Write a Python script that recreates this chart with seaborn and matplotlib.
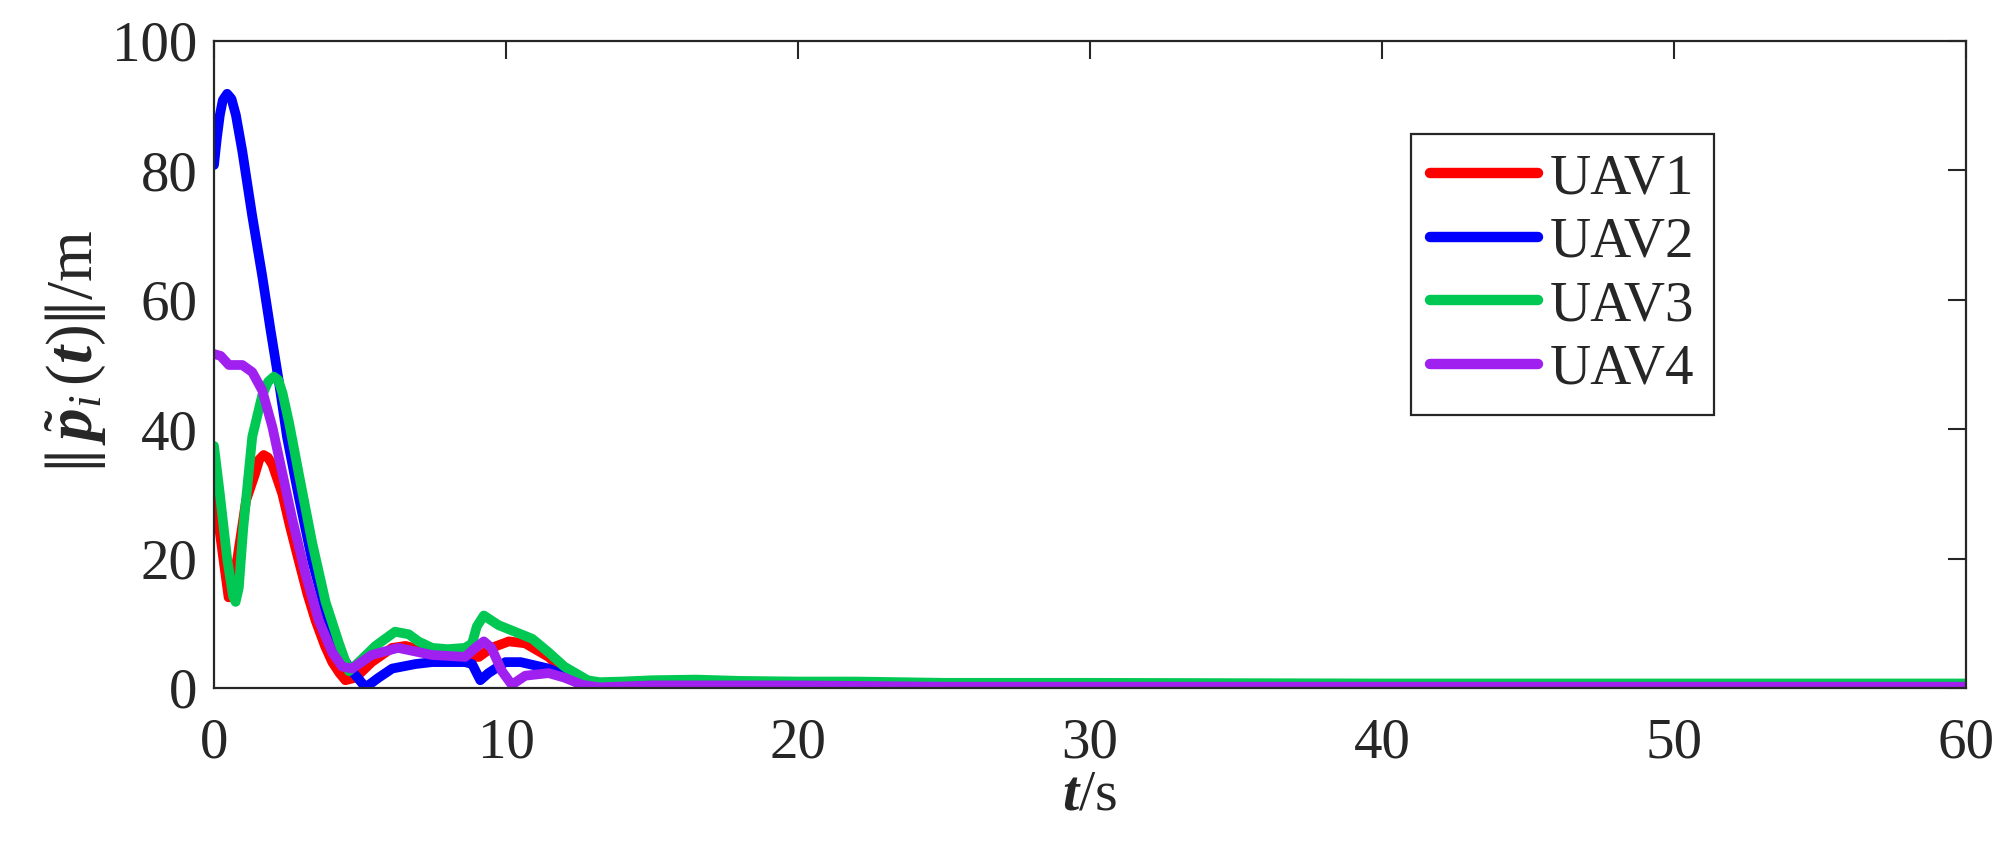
import numpy as np
import pandas as pd
import matplotlib
matplotlib.use("Agg")
import matplotlib.pyplot as plt
import seaborn as sns

# ---- data ----
t_uav1 = [0, 0.2, 0.5, 0.8, 1.1, 1.4, 1.55, 1.7, 1.85, 2.0, 2.34, 2.6, 2.9, 3.2, 3.48, 3.8, 4.05,
          4.3, 4.5, 4.85, 5.4, 6.1, 6.56, 7.0, 7.47, 8.0, 8.6, 9.07, 9.5, 10.1, 10.66, 11.0,
          11.46, 12.0, 12.4, 12.8, 13.2, 14, 15, 16.5, 18, 20, 25, 30, 40, 50, 60]
v_uav1 = [34, 24, 14, 20, 29, 33, 35.3, 36, 35.6, 34.5, 30, 25, 19.7, 14.5, 10.4, 6.5, 4.0,
          2.3, 1.2, 1.6, 4.0, 6.2, 6.5, 6.0, 5.5, 5.1, 4.8, 4.8, 6.2, 7.2, 6.9, 6.0,
          4.8, 2.6, 1.7, 0.9, 0.5, 0.8, 1.0, 1.1, 0.9, 0.7, 0.5, 0.5, 0.5, 0.5, 0.5]

t_uav2 = [0, 0.1, 0.2, 0.3, 0.45, 0.6, 0.75, 0.97, 1.31, 1.65, 1.94, 2.22, 2.5, 2.9, 3.36,
          3.82, 4.28, 4.73, 5.19, 5.64, 6.1, 6.9, 7.47, 8.6, 8.84, 9.12, 9.4, 9.98, 10.5,
          11.46, 12.0, 12.6, 13.2, 14, 15, 17, 20, 30, 40, 50, 60]
v_uav2 = [80.8, 85, 88.5, 90.8, 91.8, 91, 88.5, 82.9, 72.9, 63.7, 55.2, 47.4, 38.8, 29.6, 19.7,
          11.9, 5.5, 2.6, 0.1, 1.6, 3.0, 3.7, 4.0, 4.0, 3.7, 1.2, 2.3, 4.0, 4.0,
          3.0, 1.9, 0.5, 0.1, 0.3, 0.5, 0.6, 0.5, 0.4, 0.4, 0.4, 0.4]

t_uav3 = [0, 0.2, 0.45, 0.65, 0.74, 0.85, 1.0, 1.31, 1.65, 1.85, 2.05, 2.2, 2.35, 2.57, 2.9,
          3.36, 3.82, 4.28, 4.62, 4.96, 5.53, 6.2, 6.67, 7.0, 7.47, 8.0, 8.6, 8.84, 9.0, 9.24,
          9.75, 10.3, 10.9, 11.46, 12.0, 12.8, 13.2, 14, 15, 16.5, 18, 20, 22, 25, 30, 40,
          50, 60]
v_uav3 = [37.4, 30, 20, 14.2, 13.3, 15.5, 24.6, 38.8, 45.2, 47.3, 48.1, 47.6, 45.5, 41, 33.2,
          22.5, 13.3, 6.9, 2.6, 4.0, 6.5, 8.7, 8.3, 7.2, 6.2, 6.0, 6.2, 6.9, 9.5, 11.2,
          9.7, 8.7, 7.6, 5.5, 3.3, 1.2, 0.9, 1.0, 1.2, 1.3, 1.1, 1.0, 1.0, 0.8, 0.8, 0.7,
          0.7, 0.7]

t_uav4 = [0, 0.23, 0.51, 0.97, 1.31, 1.65, 2.0, 2.34, 2.68, 3.14, 3.59, 4.05, 4.39, 4.73, 5.4,
          6.3, 7.47, 8.6, 8.95, 9.24, 9.5, 9.86, 10.2, 10.66, 11.46, 12.0, 12.6, 13.2, 15, 20,
          25, 30, 40, 50, 60]
v_uav4 = [51.6, 51.3, 49.9, 49.9, 48.8, 46, 40.3, 33.2, 26.1, 17.5, 10.4, 5.5, 3.3, 3.0, 5.1,
          6.2, 5.1, 4.8, 6.2, 7.2, 6.2, 2.6, 0.5, 1.9, 2.3, 1.6, 0.5, 0.1, 0.4, 0.4,
          0.2, 0.2, 0.2, 0.2, 0.2]

labels = ["UAV1", "UAV2", "UAV3", "UAV4"]
colors = ["#FF0000", "#0000FF", "#00C853", "#A020F0"]
x_ticks = [0, 10, 20, 30, 40, 50, 60]
y_ticks = [0, 20, 40, 60, 80, 100]

frames = []
for lab, tt, vv in zip(labels, [t_uav1, t_uav2, t_uav3, t_uav4], [v_uav1, v_uav2, v_uav3, v_uav4]):
    frames.append(pd.DataFrame({"t": tt, "v": vv, "UAV": lab}))
df = pd.concat(frames, ignore_index=True)

# ---- style ----
sns.set_style("white")
plt.rcParams["font.family"] = ["Liberation Serif", "DejaVu Serif"]
plt.rcParams["mathtext.fontset"] = "custom"
plt.rcParams["mathtext.rm"] = "Liberation Serif"
plt.rcParams["mathtext.it"] = "Liberation Serif:italic"
plt.rcParams["mathtext.bf"] = "Liberation Serif:bold"
plt.rcParams["mathtext.bfit"] = "Liberation Serif:italic:bold"

fig = plt.figure(figsize=(20.12, 8.66), dpi=100)
ax = fig.add_axes([214 / 2012, 1 - 688 / 866, (1966 - 214) / 2012, (688 - 40.7) / 866])

sns.lineplot(data=df, x="t", y="v", hue="UAV", palette=dict(zip(labels, colors)),
             estimator=None, sort=False, linewidth=7, ax=ax)
for ln in ax.get_lines():
    ln.set_solid_joinstyle("round")

ax.set_xlim(0, 60)
ax.set_ylim(0, 100)
ax.set_xticks(x_ticks)
ax.set_yticks(y_ticks)
ax.tick_params(direction="in", length=13, width=1.5, color="#262626",
               labelsize=41, pad=12, top=True, right=True, labelcolor="#262626")
ax.tick_params(axis="x", pad=21)
for s in ax.spines.values():
    s.set_linewidth(1.6)
    s.set_color("#262626")

ax.set_xlabel(r"$\mathbfit{t}/\mathrm{s}$", fontsize=42, labelpad=0)
ax.set_ylabel(r"$\left\Vert\,\tilde{\mathbfit{p}}_{i}\,(\mathbfit{t})\right\Vert/\mathrm{m}$",
              fontsize=47)
ax.yaxis.set_label_coords(-0.06, 0.52)

leg = ax.legend(loc="upper right", bbox_to_anchor=(0.856, 0.856), borderaxespad=0,
                fontsize=41, frameon=True, fancybox=False, framealpha=1,
                edgecolor="#262626", handlelength=1.9, handletextpad=0.2,
                labelspacing=0.2, borderpad=0.34)
leg.get_frame().set_linewidth(1.6)
for line in leg.get_lines():
    line.set_linewidth(7.5)

fig.savefig("out.png", dpi=100)
